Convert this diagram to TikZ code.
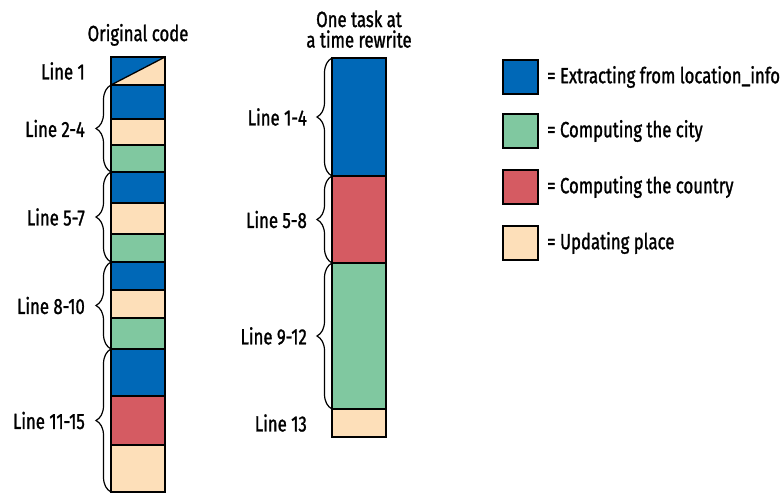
\documentclass[tikz,border=0pt]{standalone}
\usepackage{fontspec}
\setmainfont{Fira Sans}[FakeStretch=0.76,FakeBold=1.2]
\usetikzlibrary{positioning,decorations.pathreplacing}

\definecolor{extractblue}{RGB}{0,104,183}
\definecolor{citygreen}{RGB}{128,200,160}
\definecolor{countryred}{RGB}{213,91,98}
\definecolor{placepeach}{RGB}{253,223,185}

\begin{document}
\begin{tikzpicture}[x=1pt,y=-1pt,node distance=0pt,
    blk/.style={draw,line width=1.3pt,minimum width=54pt,inner sep=0pt,outer sep=0pt},
    lbl/.style={font=\fontsize{22}{20.5}\selectfont,inner sep=0pt},
    brc/.style={decorate,decoration={brace,amplitude=15pt},line width=1.2pt}]

    \useasboundingbox (0,0) rectangle (783,493);

    % original code
    \node[blk,minimum height=28pt,anchor=north west] (o1) at (111,57) {};
    \fill[extractblue] (o1.north west) -- (o1.north east) -- (o1.south west) -- cycle;
    \fill[placepeach] (o1.north east) -- (o1.south east) -- (o1.south west) -- cycle;
    \draw[line width=1.3pt] (o1.south west) -- (o1.north east);
    \node[blk,minimum height=28pt,anchor=north west] at (111,57) {};

    \node[blk,fill=extractblue,minimum height=34pt,below=of o1] (o2) {};
    \node[blk,fill=placepeach,minimum height=26pt,below=of o2] (o3) {};
    \node[blk,fill=citygreen,minimum height=27pt,below=of o3] (o4) {};
    \node[blk,fill=extractblue,minimum height=31pt,below=of o4] (o5) {};
    \node[blk,fill=placepeach,minimum height=31pt,below=of o5] (o6) {};
    \node[blk,fill=citygreen,minimum height=28pt,below=of o6] (o7) {};
    \node[blk,fill=extractblue,minimum height=28pt,below=of o7] (o8) {};
    \node[blk,fill=placepeach,minimum height=28pt,below=of o8] (o9) {};
    \node[blk,fill=citygreen,minimum height=31pt,below=of o9] (o10) {};
    \node[blk,fill=extractblue,minimum height=47pt,below=of o10] (o11) {};
    \node[blk,fill=countryred,minimum height=49pt,below=of o11] (o12) {};
    \node[blk,fill=placepeach,minimum height=47pt,below=of o12] (o13) {};

    \node[lbl,above=11pt of o1] (otitle) {Original code};

    \draw[brc] (o4.south west) -- (o2.north west) coordinate[midway] (ob1);
    \draw[brc] (o7.south west) -- (o5.north west) coordinate[midway] (ob2);
    \draw[brc] (o10.south west) -- (o8.north west) coordinate[midway] (ob3);
    \draw[brc] (o13.south west) -- (o11.north west) coordinate[midway] (ob4);

    \node[lbl,left=26pt of o1.west] (ol1) {Line 1};
    \node[lbl,left=26pt of ob1] (ol2) {Line 2-4};
    \node[lbl,left=26pt of ob2] (ol3) {Line 5-7};
    \node[lbl,left=26pt of ob3] (ol4) {Line 8-10};
    \node[lbl,left=26pt of ob4] (ol5) {Line 11-15};

    % one task at a time rewrite
    \node[blk,fill=extractblue,minimum height=118pt,anchor=north west] (r1) at (332,58) {};
    \node[blk,fill=countryred,minimum height=87pt,below=of r1] (r2) {};
    \node[blk,fill=citygreen,minimum height=146pt,below=of r2] (r3) {};
    \node[blk,fill=placepeach,minimum height=28pt,below=of r3] (r4) {};

    \node[lbl,align=center,above=10pt of r1] (rtitle) {One task at\\a time rewrite};

    \draw[brc] (r1.south west) -- (r1.north west) coordinate[midway] (rb1);
    \draw[brc] (r2.south west) -- (r2.north west) coordinate[midway] (rb2);
    \draw[brc] (r3.south west) -- (r3.north west) coordinate[midway] (rb3);

    \node[lbl,left=25pt of rb1] (rl1) {Line 1-4};
    \node[lbl,left=25pt of rb2] (rl2) {Line 5-8};
    \node[lbl,left=25pt of rb3] (rl3) {Line 9-12};
    \node[lbl,left=25pt of r4.west] (rl4) {Line 13};

    % legend
    \node[blk,fill=extractblue,minimum width=35pt,minimum height=34pt,anchor=north west] (k1) at (503,60) {};
    \node[blk,fill=citygreen,minimum width=35pt,minimum height=34pt,below=20pt of k1] (k2) {};
    \node[blk,fill=countryred,minimum width=35pt,minimum height=34pt,below=22pt of k2] (k3) {};
    \node[blk,fill=placepeach,minimum width=35pt,minimum height=34pt,below=22pt of k3] (k4) {};

    \node[lbl,right=9pt of k1] (t1) {= Extracting from location\_info};
    \node[lbl,right=9pt of k2] (t2) {= Computing the city};
    \node[lbl,right=9pt of k3] (t3) {= Computing the country};
    \node[lbl,right=9pt of k4] (t4) {= Updating place};

\end{tikzpicture}
\end{document}
